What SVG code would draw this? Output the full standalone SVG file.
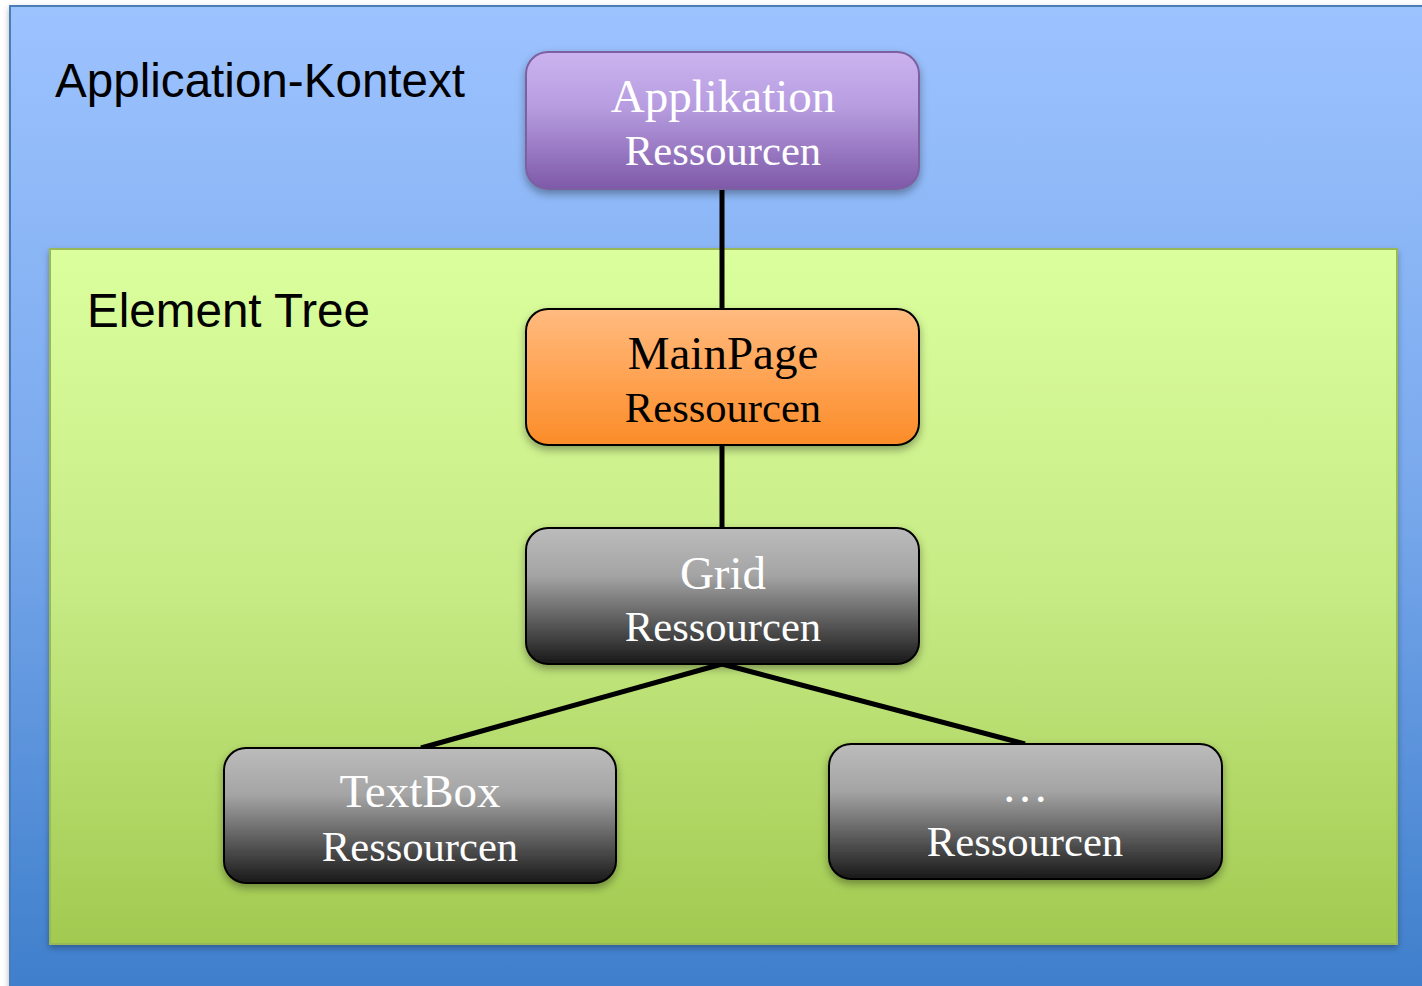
<svg xmlns="http://www.w3.org/2000/svg" width="1422" height="986" viewBox="0 0 1422 986">
<defs>
<linearGradient id="gBlue" x1="0" y1="0" x2="0" y2="1"><stop offset="0" stop-color="#9dc3ff"/><stop offset="0.5" stop-color="#78a8ec"/><stop offset="1" stop-color="#3e7ecb"/></linearGradient>
<linearGradient id="gGreen" x1="0" y1="0" x2="0" y2="1"><stop offset="0" stop-color="#dcff9e"/><stop offset="0.5" stop-color="#c6ea84"/><stop offset="1" stop-color="#a2ca50"/></linearGradient>
<linearGradient id="gPurple" x1="0" y1="0" x2="0" y2="1"><stop offset="0" stop-color="#cbb3ef"/><stop offset="0.4" stop-color="#b79de0"/><stop offset="1" stop-color="#7e59a8"/></linearGradient>
<linearGradient id="gOrange" x1="0" y1="0" x2="0" y2="1"><stop offset="0" stop-color="#ffbb80"/><stop offset="0.4" stop-color="#ffa85c"/><stop offset="1" stop-color="#fb8c28"/></linearGradient>
<linearGradient id="gGray" x1="0" y1="0" x2="0" y2="1"><stop offset="0" stop-color="#bcbcbc"/><stop offset="0.35" stop-color="#a4a4a4"/><stop offset="1" stop-color="#181818"/></linearGradient>
<filter id="sh" x="-10%" y="-10%" width="120%" height="130%"><feDropShadow dx="0" dy="4" stdDeviation="4" flood-color="#000" flood-opacity="0.35"/></filter>
<filter id="sh2" x="-5%" y="-5%" width="110%" height="110%"><feDropShadow dx="0" dy="3" stdDeviation="3" flood-color="#000" flood-opacity="0.3"/></filter>
</defs>
<style>
.lbl{font-family:"Liberation Sans",Arial,sans-serif;font-size:47.6px;fill:#000}
.t1{font-family:"Liberation Serif","Times New Roman",serif;font-size:47px;text-anchor:middle}
.t2{font-family:"Liberation Serif","Times New Roman",serif;font-size:42.6px;text-anchor:middle}
.w{fill:#fff}
.b{fill:#000}
.node{stroke:#000;stroke-width:2}
.conn{stroke:#000;stroke-width:5;fill:none}
</style>
<rect width="1422" height="986" fill="#ffffff"/>
<g id="app-context">
<rect x="10" y="6" width="1420" height="990" fill="url(#gBlue)" stroke="#4a7ebb" stroke-width="2" filter="url(#sh2)"/>
<text class="lbl" x="55" y="97">Application-Kontext</text>
</g>
<g id="element-tree">
<rect x="50" y="249" width="1347" height="695" fill="url(#gGreen)" stroke="#98b954" stroke-width="2" filter="url(#sh2)"/>
<text class="lbl" x="87" y="327">Element Tree</text>
</g>
<g id="connectors">
<line class="conn" x1="722" y1="189" x2="722" y2="309"/>
<line class="conn" x1="722" y1="445" x2="722" y2="528"/>
<line class="conn" x1="722" y1="664" x2="421" y2="748"/>
<line class="conn" x1="722" y1="664" x2="1025" y2="744"/>
</g>
<g id="node-applikation">
<rect x="526" y="52" width="393" height="137" rx="22" fill="url(#gPurple)" stroke="#7d60a0" stroke-width="2" filter="url(#sh)"/>
<text class="t1 w" x="723" y="112">Applikation</text>
<text class="t2 w" x="723" y="165">Ressourcen</text>
</g>
<g id="node-mainpage">
<rect class="node" x="526" y="309" width="393" height="136" rx="22" fill="url(#gOrange)" filter="url(#sh)"/>
<text class="t1 b" x="723" y="369">MainPage</text>
<text class="t2 b" x="723" y="422">Ressourcen</text>
</g>
<g id="node-grid">
<rect class="node" x="526" y="528" width="393" height="136" rx="22" fill="url(#gGray)" filter="url(#sh)"/>
<text class="t1 w" x="723" y="589">Grid</text>
<text class="t2 w" x="723" y="641">Ressourcen</text>
</g>
<g id="node-textbox">
<rect class="node" x="224" y="748" width="392" height="135" rx="22" fill="url(#gGray)" filter="url(#sh)"/>
<text class="t1 w" x="420" y="807">TextBox</text>
<text class="t2 w" x="420" y="861">Ressourcen</text>
</g>
<g id="node-more">
<rect class="node" x="829" y="744" width="393" height="135" rx="22" fill="url(#gGray)" filter="url(#sh)"/>
<text class="t1 w" x="1025" y="802">…</text>
<text class="t2 w" x="1025" y="856">Ressourcen</text>
</g>
</svg>
